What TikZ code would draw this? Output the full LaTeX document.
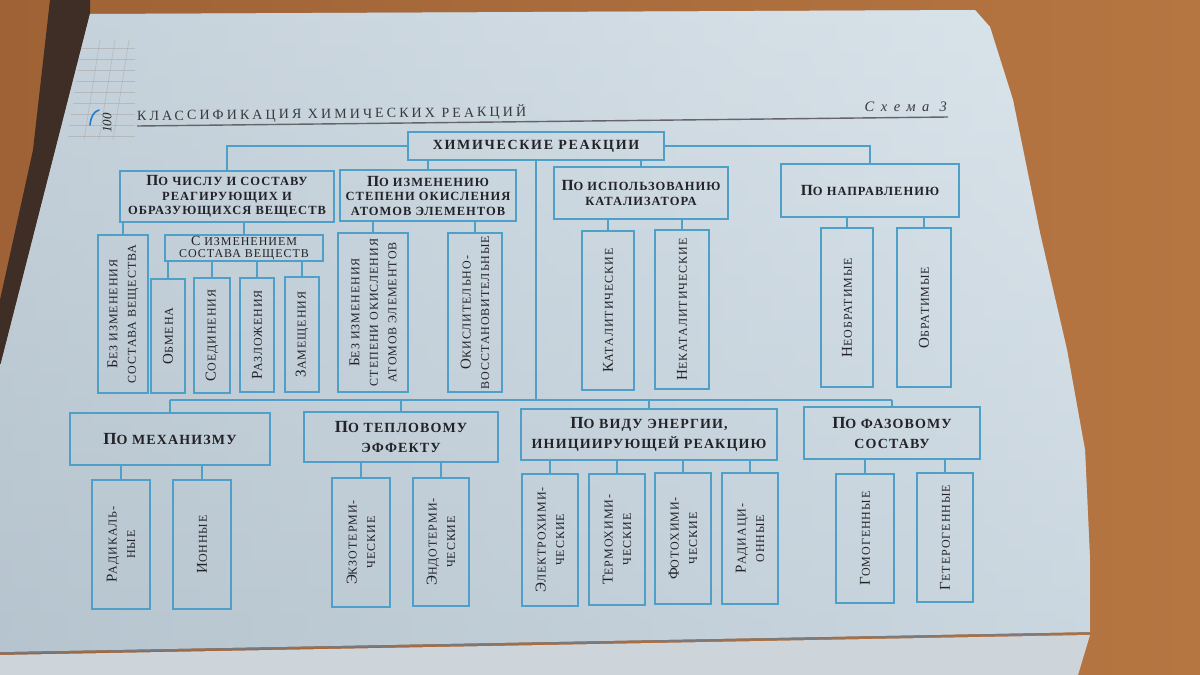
\documentclass[tikz,border=0pt]{standalone}
\usepackage{fontspec}
\setmainfont{Liberation Serif}
\newfontfamily\fHead[LetterSpace=8]{Liberation Serif}
\newfontfamily\fRoot[LetterSpace=12]{Liberation Serif}
\newfontfamily\fVert[LetterSpace=8]{Liberation Serif}
\newfontfamily\fTitle[LetterSpace=22]{Liberation Serif}
\newfontfamily\fSchema[LetterSpace=45]{Liberation Serif}
\definecolor{lineblue}{RGB}{78,160,200}
\definecolor{ink}{RGB}{34,34,40}
\definecolor{paperA}{RGB}{218,228,235}
\definecolor{paperB}{RGB}{190,204,214}
\definecolor{paperC}{RGB}{172,187,198}
\definecolor{woodA}{RGB}{182,118,66}
\definecolor{woodB}{RGB}{158,98,54}
\definecolor{leather}{RGB}{62,46,38}
\definecolor{penblue}{RGB}{40,120,200}
\newcommand\scs{11}
\newcommand\sm[1]{{\fontsize{\scs}{\scs}\selectfont #1}}
\newcommand\mybox[7][]{\node[box,#1,minimum width={#5pt-#3pt},minimum height={#6pt-#4pt}] (#2) at ({(#3+#5)/2},{(#4+#6)/2}) {#7};}
\newcommand\myvbox[7][]{\node[box,minimum width={#5pt-#3pt},minimum height={#6pt-#4pt}] (#2) at ({(#3+#5)/2},{(#4+#6)/2}) {};\node[vt,#1] (#2-t) at (#2.center) {#7};}
\begin{document}
\begin{tikzpicture}[x=1pt,y=-1pt,
  box/.style={draw=lineblue, line width=1.7pt, inner sep=0pt, align=center, text=ink},
  hd/.style={font=\fHead\bfseries\fontsize{15.5}{14.5}\selectfont\def\scs{12.5}},
  hdB/.style={font=\fHead\bfseries\fontsize{17}{19.5}\selectfont\def\scs{14}},
  roothd/.style={font=\fRoot\bfseries\fontsize{14}{14}\selectfont},
  subhd/.style={font=\fVert\fontsize{14}{12}\selectfont\def\scs{12}},
  vt/.style={rotate=90, align=center, inner sep=0pt, text=ink, font=\fVert\fontsize{15}{18.5}\selectfont\def\scs{12}},
  conn/.style={draw=lineblue, line width=1.8pt}]
\useasboundingbox (0,0) rectangle (1200,675);
% ---- background (table, sleeve, page)
\shade[left color=woodB, right color=woodA] (0,0) rectangle (1200,675);
\fill[leather] (50,0) -- (90,0) -- (90,14) -- (0,367) -- (0,300) -- (33,150) -- cycle;
\shade[left color=paperC, right color=paperA] (90,14) -- (975,10) -- (990,27) -- (1013,100) -- (1040,233) -- (1067,350) -- (1085,450) -- (1090,560) -- (1090,632) -- (0,652) -- (0,367) -- cycle;
\shade[top color=paperA, bottom color=paperB, opacity=.55] (90,14) -- (975,10) -- (990,27) -- (1013,100) -- (1040,233) -- (1067,350) -- (1085,450) -- (1090,560) -- (1090,632) -- (0,652) -- (0,367) -- cycle;
\fill[paperA!85!gray] (0,655) -- (1090,635) -- (1078,675) -- (0,675) -- cycle;
\draw[ink!60, line width=1.4pt] (0,653) -- (1090,633);
% graph-paper marks top left
\foreach \yy in {48,59,70,81,92,103,114,125,136}
  \draw[gray!70, opacity=.55, line width=.6pt] ({82-(\yy-40)*0.15},\yy) -- (135,\yy);
\foreach \xx in {100,115,129}
  \draw[gray!70, opacity=.55, line width=.6pt] (\xx,40) -- ({\xx-16},140);
\draw[penblue, line width=1.6pt, line cap=round] (90,125) .. controls (91,117) and (93,112) .. (99,110);
\node[rotate=90, font=\itshape\fontsize{13}{13}\selectfont, text=ink, inner sep=0pt] (pg) at (107,123) {100};
% ---- header
\node[anchor=west, rotate=0.6, inner sep=0pt, font=\fTitle\fontsize{14}{14}\selectfont, text=ink!90] (title) at (137,116) {КЛАССИФИКАЦИЯ ХИМИЧЕСКИХ РЕАКЦИЙ};
\node[anchor=east, inner sep=0pt, font=\fSchema\itshape\fontsize{14.5}{14.5}\selectfont, text=ink!90] (schema) at (947,107) {Схема 3};
\draw[ink!70, line width=1.4pt] (137,126) -- (948,117);
% ---- root and first level
\mybox[roothd]{root}{408}{132}{664}{160}{ХИМИЧЕСКИЕ РЕАКЦИИ}
\mybox[hd]{b2}{120}{171}{334}{222}{П\sm{О ЧИСЛУ И СОСТАВУ}\\\sm{РЕАГИРУЮЩИХ И}\\\sm{ОБРАЗУЮЩИХСЯ ВЕЩЕСТВ}}
\mybox[hd]{b3}{340}{170}{516}{221}{П\sm{О ИЗМЕНЕНИЮ}\\\sm{СТЕПЕНИ ОКИСЛЕНИЯ}\\\sm{АТОМОВ ЭЛЕМЕНТОВ}}
\mybox[hd]{b4}{554}{167}{728}{219}{П\sm{О ИСПОЛЬЗОВАНИЮ}\\\sm{КАТАЛИЗАТОРА}}
\mybox[hd]{b5}{781}{164}{959}{217}{П\sm{О НАПРАВЛЕНИЮ}}
% ---- second level
\myvbox{c1}{98}{235}{148}{393}{Б\sm{ЕЗ ИЗМЕНЕНИЯ}\\\sm{СОСТАВА ВЕЩЕСТВА}}
\mybox[subhd]{c2}{165}{235}{323}{261}{С\sm{ ИЗМЕНЕНИЕМ}\\\sm{СОСТАВА ВЕЩЕСТВ}}
\myvbox{d1}{151}{279}{185}{393}{О\sm{БМЕНА}}
\myvbox{d2}{194}{278}{230}{393}{С\sm{ОЕДИНЕНИЯ}}
\myvbox{d3}{240}{278}{274}{392}{Р\sm{АЗЛОЖЕНИЯ}}
\myvbox{d4}{285}{277}{319}{392}{З\sm{АМЕЩЕНИЯ}}
\myvbox{e1}{338}{233}{408}{392}{Б\sm{ЕЗ ИЗМЕНЕНИЯ}\\\sm{СТЕПЕНИ ОКИСЛЕНИЯ}\\\sm{АТОМОВ ЭЛЕМЕНТОВ}}
\myvbox{e2}{448}{233}{502}{392}{О\sm{КИСЛИТЕЛЬНО-}\\\sm{ВОССТАНОВИТЕЛЬНЫЕ}}
\myvbox{f1}{582}{231}{634}{390}{К\sm{АТАЛИТИЧЕСКИЕ}}
\myvbox{f2}{655}{230}{709}{389}{Н\sm{ЕКАТАЛИТИЧЕСКИЕ}}
\myvbox{g1}{821}{228}{873}{387}{Н\sm{ЕОБРАТИМЫЕ}}
\myvbox{g2}{897}{228}{951}{387}{О\sm{БРАТИМЫЕ}}
% ---- third level
\coordinate (bus) at (536,400);
\mybox[hdB]{h1}{70}{413}{270}{465}{П\sm{О МЕХАНИЗМУ}}
\mybox[hdB]{h2}{304}{412}{498}{462}{П\sm{О ТЕПЛОВОМУ}\\\sm{ЭФФЕКТУ}}
\mybox[hdB]{h3}{521}{409}{777}{460}{П\sm{О ВИДУ ЭНЕРГИИ,}\\\sm{ИНИЦИИРУЮЩЕЙ РЕАКЦИЮ}}
\mybox[hdB]{h4}{804}{407}{980}{459}{П\sm{О ФАЗОВОМУ}\\\sm{СОСТАВУ}}
% ---- fourth level
\myvbox{i1}{92}{480}{150}{609}{Р\sm{АДИКАЛЬ-}\\\sm{НЫЕ}}
\myvbox{i2}{173}{480}{231}{609}{И\sm{ОННЫЕ}}
\myvbox{i3}{332}{478}{390}{607}{Э\sm{КЗОТЕРМИ-}\\\sm{ЧЕСКИЕ}}
\myvbox{i4}{413}{478}{469}{606}{Э\sm{НДОТЕРМИ-}\\\sm{ЧЕСКИЕ}}
\myvbox{j1}{522}{474}{578}{606}{Э\sm{ЛЕКТРОХИМИ-}\\\sm{ЧЕСКИЕ}}
\myvbox{j2}{589}{474}{645}{605}{Т\sm{ЕРМОХИМИ-}\\\sm{ЧЕСКИЕ}}
\myvbox{j3}{655}{473}{711}{604}{Ф\sm{ОТОХИМИ-}\\\sm{ЧЕСКИЕ}}
\myvbox{j4}{722}{473}{778}{604}{Р\sm{АДИАЦИ-}\\\sm{ОННЫЕ}}
\myvbox{k1}{836}{474}{894}{603}{Г\sm{ОМОГЕННЫЕ}}
\myvbox{k2}{917}{473}{973}{602}{Г\sm{ЕТЕРОГЕННЫЕ}}
% ---- connectors
\draw[conn] (root.west) -| (b2.north);
\draw[conn] (root.east) -| (b5.north);
\draw[conn] (b3.north) -- (b3.north |- root.south);
\draw[conn] (b4.north) -- (b4.north |- root.south);
\draw[conn] (root.south) -- (bus);
\draw[conn] (h1.north |- bus) -- (h4.north |- bus);
\foreach \n in {h1,h2,h3,h4} \draw[conn] (\n.north) -- (\n.north |- bus);
\foreach \n in {c1,c2} \draw[conn] (\n.north) -- (\n.north |- b2.south);
\foreach \n in {d1,d2,d3,d4} \draw[conn] (\n.north) -- (\n.north |- c2.south);
\foreach \n in {e1,e2} \draw[conn] (\n.north) -- (\n.north |- b3.south);
\foreach \n in {f1,f2} \draw[conn] (\n.north) -- (\n.north |- b4.south);
\foreach \n in {g1,g2} \draw[conn] (\n.north) -- (\n.north |- b5.south);
\foreach \n in {i1,i2} \draw[conn] (\n.north) -- (\n.north |- h1.south);
\foreach \n in {i3,i4} \draw[conn] (\n.north) -- (\n.north |- h2.south);
\foreach \n in {j1,j2,j3,j4} \draw[conn] (\n.north) -- (\n.north |- h3.south);
\foreach \n in {k1,k2} \draw[conn] (\n.north) -- (\n.north |- h4.south);
\end{tikzpicture}
\end{document}
